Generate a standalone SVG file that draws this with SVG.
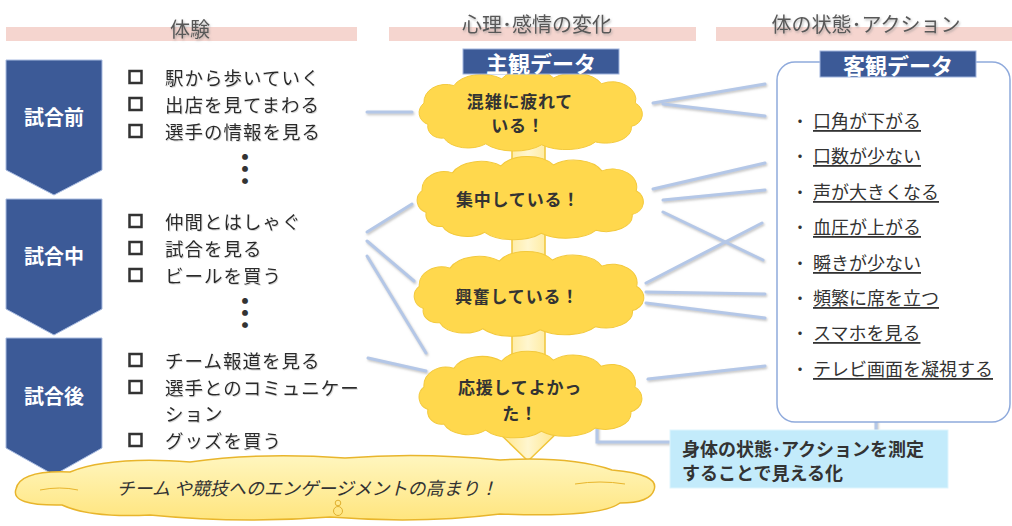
<svg xmlns="http://www.w3.org/2000/svg" width="1012" height="526" viewBox="0 0 1012 526">
<style>
text{font-family:"Noto Sans CJK JP","Noto Sans",sans-serif;dominant-baseline:central}
.hdr{font-size:20px;fill:#595959;text-anchor:middle;filter:url(#sh)}
.bar{fill:#f5d5cf}
.chev{fill:#3c5a97;stroke:#a8bbe0;stroke-width:1}
.chl{font-size:20px;fill:#fff;text-anchor:middle;font-weight:bold}
.li{font-size:18.5px;fill:#2b2b2b;letter-spacing:1px;filter:url(#tsh)}
.cb{fill:none;stroke:#333;stroke-width:2.5}
.dots{font-size:36px;fill:#333;font-weight:bold;text-anchor:middle}
.cl{fill:#ffd84d;stroke:#f3c93c;stroke-width:1}
.ct{font-size:17px;fill:#333;font-weight:bold;text-anchor:middle;letter-spacing:0.8px}
.conn line,.conn path{stroke:#b4c7e7;stroke-width:3;fill:none;stroke-linecap:round}
.ob{font-size:18px;fill:#333;text-decoration:underline}
.bl{font-size:16px;fill:#333}
.title{font-size:22px;fill:#fff;font-weight:bold;text-anchor:middle}
.tbox{fill:#3c5a97;stroke:#9fb4dd;stroke-width:1}
</style>
<defs>
<filter id="sh" x="-10%" y="-10%" width="130%" height="140%"><feDropShadow dx="1" dy="1.5" stdDeviation="0.8" flood-color="#888" flood-opacity="0.6"/></filter>
<filter id="tsh" x="-5%" y="-20%" width="115%" height="150%"><feDropShadow dx="0.8" dy="1" stdDeviation="0.6" flood-color="#999" flood-opacity="0.4"/></filter>
<filter id="lsh" x="-10%" y="-50%" width="130%" height="200%"><feDropShadow dx="1" dy="1.5" stdDeviation="0.8" flood-color="#999" flood-opacity="0.6"/></filter>
<linearGradient id="shaft" x1="0" y1="0" x2="1" y2="0"><stop offset="0" stop-color="#ffe27a"/><stop offset="0.5" stop-color="#fff6cf"/><stop offset="1" stop-color="#ffe27a"/></linearGradient>
<linearGradient id="big" x1="0" y1="0" x2="0" y2="1"><stop offset="0" stop-color="#fff6bf"/><stop offset="1" stop-color="#ffe57e"/></linearGradient>
<path id="cloud" d="M14,52 A14,13 0 0 1 10,30 A22,18 0 0 1 40,12 A30,18 0 0 1 88,5 A30,18 0 0 1 140,4 A30,18 0 0 1 188,10 A24,18 0 0 1 222,30 A14,13 0 0 1 218,54 A26,16 0 0 1 182,70 A34,16 0 0 1 128,73 A34,16 0 0 1 72,72 A26,16 0 0 1 30,66 A14,12 0 0 1 14,52 Z"/>
<marker id="arr" viewBox="0 0 10 10" refX="5" refY="3" markerWidth="5" markerHeight="5" orient="auto-start-reverse"><path d="M0,10 L5,0 L10,10 Z" fill="#b4c7e7"/></marker>
</defs>
<rect width="1012" height="526" fill="#fff"/>

<g id="headers">
<rect class="bar" x="6" y="27" width="351" height="14"/>
<rect class="bar" x="389" y="27" width="307" height="14"/>
<rect class="bar" x="716" y="27" width="296" height="14"/>
<text class="hdr" x="190" y="28">体験</text>
<text class="hdr" x="537" y="23">心理･感情の変化</text>
<text class="hdr" x="866" y="23">体の状態･アクション</text>
</g>

<g id="phase-before">
<path class="chev" d="M6,60 H102 V170 L54,195 L6,170 Z"/>
<text class="chl" x="54" y="116">試合前</text>
</g>
<g id="phase-during">
<path class="chev" d="M6,199 H102 V309 L54,335 L6,309 Z"/>
<text class="chl" x="54" y="255">試合中</text>
</g>
<g id="phase-after">
<path class="chev" d="M6,338 H102 V448 L54,475 L6,448 Z"/>
<text class="chl" x="54" y="395">試合後</text>
</g>

<g id="list-before">
<rect class="cb" x="129.5" y="71" width="12" height="12"/><text class="li" x="165" y="77">駅から歩いていく</text>
<rect class="cb" x="129.5" y="98" width="12" height="12"/><text class="li" x="165" y="104">出店を見てまわる</text>
<rect class="cb" x="129.5" y="125" width="12" height="12"/><text class="li" x="165" y="131">選手の情報を見る</text>
<text class="dots" x="245" y="167">︙</text>
</g>
<g id="list-during">
<rect class="cb" x="129.5" y="215" width="12" height="12"/><text class="li" x="165" y="221">仲間とはしゃぐ</text>
<rect class="cb" x="129.5" y="242" width="12" height="12"/><text class="li" x="165" y="248">試合を見る</text>
<rect class="cb" x="129.5" y="269" width="12" height="12"/><text class="li" x="165" y="275">ビールを買う</text>
<text class="dots" x="245" y="311">︙</text>
</g>
<g id="list-after">
<rect class="cb" x="129.5" y="354" width="12" height="12"/><text class="li" x="165" y="360">チーム報道を見る</text>
<rect class="cb" x="129.5" y="381" width="12" height="12"/><text class="li" x="165" y="387">選手とのコミュニケー</text>
<text class="li" x="165" y="413">ション</text>
<rect class="cb" x="129.5" y="434" width="12" height="12"/><text class="li" x="165" y="440">グッズを買う</text>
</g>

<g id="flow-arrow">
<path d="M512,110 H545 V428 H562 L528,461 L494,428 H512 Z" fill="url(#shaft)" stroke="#f0c53a" stroke-width="1.5"/>
</g>

<g id="connectors" class="conn" filter="url(#lsh)">
<line x1="367" y1="112" x2="412" y2="112"/>
<line x1="367" y1="232" x2="412" y2="204"/>
<line x1="367" y1="241" x2="414" y2="281"/>
<line x1="367" y1="256" x2="426" y2="353"/>
<line x1="368" y1="358" x2="426" y2="371"/>
<line x1="653" y1="103" x2="765" y2="84"/>
<line x1="663" y1="104" x2="765" y2="116"/>
<line x1="653" y1="189" x2="765" y2="163"/>
<line x1="663" y1="200" x2="765" y2="190"/>
<line x1="663" y1="212" x2="763" y2="260"/>
<line x1="646" y1="283" x2="762" y2="223"/>
<line x1="646" y1="292" x2="765" y2="294"/>
<line x1="646" y1="303" x2="765" y2="318"/>
<line x1="648" y1="379" x2="765" y2="366"/>
<path d="M670,442 H597 V418" marker-end="url(#arr)"/>
<line x1="876" y1="411" x2="876" y2="430"/>
</g>

<g id="cloud-tired">
<use href="#cloud" class="cl" transform="translate(414,74) scale(0.997,0.97)"/>
<text class="ct" x="520" y="100">混雑に疲れて</text>
<text class="ct" x="518" y="124">いる！</text>
</g>
<g id="cloud-focus">
<use href="#cloud" class="cl" transform="translate(412,161) scale(1.01,0.99)"/>
<text class="ct" x="518" y="198">集中している！</text>
</g>
<g id="cloud-excited">
<use href="#cloud" class="cl" transform="translate(409,256) scale(1.025,1.01)"/>
<text class="ct" x="517" y="295">興奮している！</text>
</g>
<g id="cloud-glad">
<use href="#cloud" class="cl" transform="translate(414,356) scale(0.995,1.03)"/>
<text class="ct" x="520" y="386">応援してよかっ</text>
<text class="ct" x="520" y="412">た！</text>
</g>

<g id="engagement">
<path d="M16,489 Q20,470 70,472 Q110,456 190,462 Q260,452 345,458 Q420,452 500,460 Q570,456 612,470 Q660,474 654,490 Q650,503 620,503 Q600,518 500,514 Q420,524 330,517 Q240,524 150,515 Q90,518 62,505 Q10,506 16,489 Z" fill="url(#big)" stroke="#e8b52c" stroke-width="1.5"/>
<path d="M40,490 Q60,486 78,490 M575,484 Q600,480 625,484" fill="none" stroke="#e8b52c" stroke-width="1"/>
<text x="307" y="487" font-size="18" font-style="italic" fill="#333" text-anchor="middle">チーム や競技へのエンゲージメントの高まり！</text>
<circle cx="338" cy="503" r="2.8" fill="none" stroke="#e0b030" stroke-width="1"/>
<circle cx="338" cy="511" r="4.5" fill="none" stroke="#e0b030" stroke-width="1"/>
</g>

<g id="subjective-title">
<rect class="tbox" x="463" y="49" width="156" height="25"/>
<text class="title" x="541" y="62">主観データ</text>
</g>

<g id="objective">
<rect x="777" y="62" width="233" height="360" rx="18" fill="#fff" stroke="#8faadc" stroke-width="1.5"/>
<rect class="tbox" x="820" y="51" width="156" height="26"/>
<text class="title" x="898" y="64">客観データ</text>
<text class="bl" x="792" y="120">・</text><text class="ob" x="813" y="120">口角が下がる</text>
<text class="bl" x="792" y="155">・</text><text class="ob" x="813" y="155">口数が少ない</text>
<text class="bl" x="792" y="191">・</text><text class="ob" x="813" y="191">声が大きくなる</text>
<text class="bl" x="792" y="226">・</text><text class="ob" x="813" y="226">血圧が上がる</text>
<text class="bl" x="792" y="262">・</text><text class="ob" x="813" y="262">瞬きが少ない</text>
<text class="bl" x="792" y="297">・</text><text class="ob" x="813" y="297">頻繁に席を立つ</text>
<text class="bl" x="792" y="332">・</text><text class="ob" x="813" y="332">スマホを見る</text>
<text class="bl" x="792" y="368">・</text><text class="ob" x="813" y="368">テレビ画面を凝視する</text>
</g>

<g id="measure-note">
<rect x="670" y="430" width="278" height="58" fill="#c3ebfb" stroke="#dff5fd" stroke-width="1"/>
<text x="682" y="448" font-size="18" font-weight="bold" fill="#333">身体の状態･アクションを測定</text>
<text x="682" y="472" font-size="18" font-weight="bold" fill="#333">することで見える化</text>
</g>
</svg>
